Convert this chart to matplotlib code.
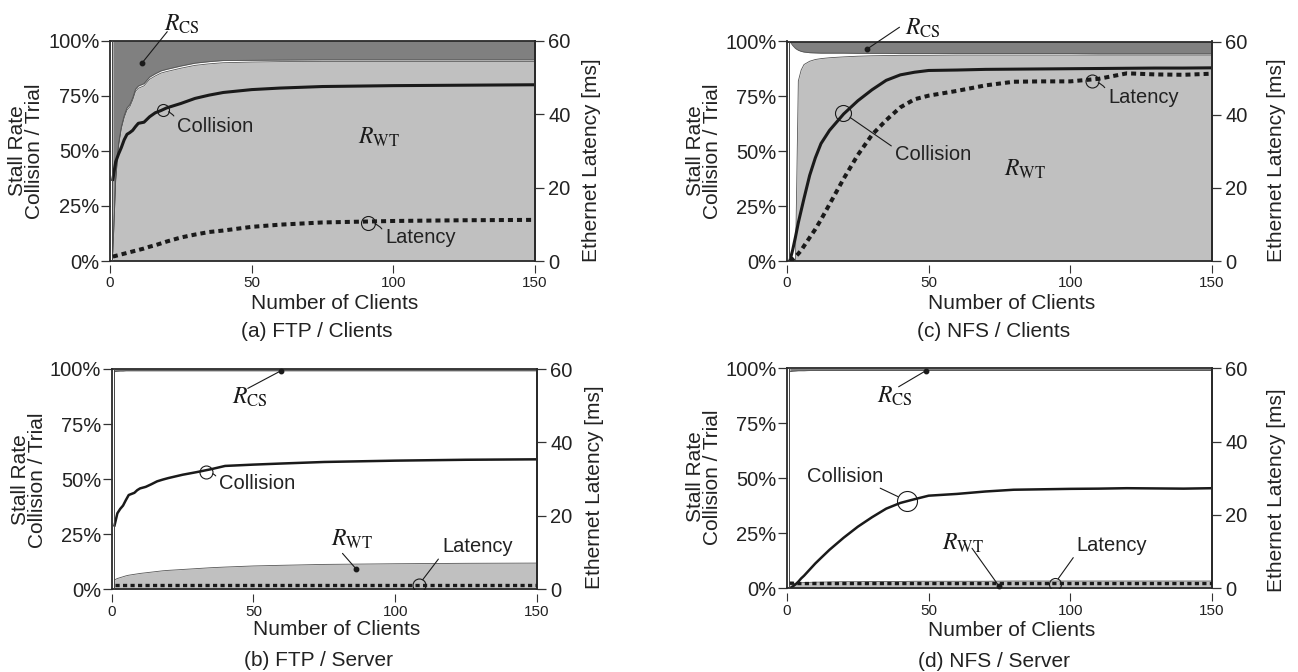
import matplotlib

matplotlib.use("Agg")
import matplotlib.pyplot as plt
from matplotlib import transforms
from matplotlib.lines import Line2D

plt.rcParams["font.family"] = ["Liberation Sans", "DejaVu Sans"]
plt.rcParams["mathtext.fontset"] = "stix"

W, H = 1298, 672
LIGHT = "#c0c0c0"
DARK = "#808080"
INK = "#1a1a1a"
TXT = "#222222"

# ---- data ----------------------------------------------------------------
# stall rates in %, collision / trial in %, latency in ms
x_ftp = [1, 2, 3, 4, 5, 6, 7, 8, 9, 10, 12, 14, 16, 18, 20, 25, 30, 35, 40,
         50, 60, 75, 100, 125, 150]
a_rwt = [3, 36, 52, 60, 65, 68.5, 70, 73, 77, 78.4, 79.5, 82.5, 84, 85.3, 86,
         87.5, 88.8, 89.5, 90, 90.3, 90.5, 90.6, 90.6, 90.6, 90.6]
a_rcs = [96, 63, 47, 39, 34, 30.5, 29, 26, 22, 20.6, 19.5, 16.5, 15, 13.7, 13,
         11.5, 10.2, 9.5, 9, 8.9, 8.8, 8.7, 8.7, 8.7, 8.7]
a_coll = [37, 45, 48.5, 51.5, 55, 57.5, 58.3, 59.3, 61, 62.5, 63, 65.5, 67.3,
          68.3, 69.5, 71.5, 73.8, 75.3, 76.5, 77.8, 78.5, 79.2, 79.6, 79.8, 80]
a_lat = [1.2, 1.4, 1.6, 1.8, 2.0, 2.2, 2.4, 2.6, 2.8, 3.0, 3.4, 3.9, 4.3, 4.8,
         5.3, 6.4, 7.2, 7.9, 8.3, 9.3, 9.9, 10.5, 10.9, 11.1, 11.2]

b_rwt = [4.3, 4.9, 5.3, 5.7, 6.1, 6.4, 6.6, 6.8, 7.0, 7.2, 7.5, 7.8, 8.1, 8.4,
         8.6, 9.0, 9.4, 9.8, 10.1, 10.6, 10.9, 11.3, 11.6, 11.8, 11.9]
b_rcs = [1.2, 1.0, 0.9, 0.9, 0.8, 0.8, 0.8, 0.8, 0.8, 0.8, 0.8, 0.8, 0.8, 0.8,
         0.8, 0.8, 0.8, 0.8, 0.8, 0.8, 0.8, 0.8, 0.8, 0.8, 0.8]
b_coll = [29, 34.5, 36.5, 38, 40.5, 42.8, 43.3, 43.8, 45, 45.8, 46.5, 47.7, 49,
          49.8, 50.5, 52, 53.2, 54.5, 56, 56.6, 57.1, 57.8, 58.4, 58.8, 59]
b_lat = [1.2, 1.2, 1.2, 1.2, 1.2, 1.2, 1.2, 1.2, 1.2, 1.2, 1.2, 1.2, 1.2, 1.2,
         1.2, 1.2, 1.2, 1.2, 1.2, 1.2, 1.2, 1.2, 1.2, 1.2, 1.2]

x_nfs = [1, 2, 3, 4, 5, 6, 8, 10, 12, 15, 20, 25, 30, 35, 40, 45, 50, 60, 70,
         80, 90, 100, 110, 120, 130, 140, 150]
c_rwt = [0, 0, 0, 82, 87, 89.5, 91, 91.8, 92.2, 92.6, 93, 93.3, 93.5, 93.6,
         93.7, 93.7, 93.7, 93.8, 93.8, 93.8, 93.8, 93.8, 93.8, 93.8, 93.8,
         93.8, 93.8]
c_rcs = [0, 1.8, 3.2, 4.0, 4.5, 4.8, 5.1, 5.2, 5.3, 5.3, 5.3, 5.4, 5.4, 5.4,
         5.5, 5.5, 5.5, 5.5, 5.5, 5.5, 5.5, 5.5, 5.6, 5.6, 5.6, 5.6, 5.6]
c_coll = [0, 5, 11, 17.5, 23, 28.5, 39, 47, 53.5, 59.5, 67, 73, 78, 82.3, 84.8,
          86, 86.8, 87, 87.3, 87.4, 87.5, 87.6, 87.7, 87.8, 87.9, 87.9, 88]
c_lat = [0, 0.5, 1.2, 2.0, 2.9, 4.1, 6.4, 8.7, 11.3, 15.5, 22.5, 29, 34.5,
         38.5, 42, 44.2, 45.2, 46.5, 48, 49, 49.1, 49.1, 49.8, 51.3, 51.0,
         50.9, 51.2]

d_rwt = [1.5, 2.0, 2.2, 2.4, 2.5, 2.6, 2.7, 2.8, 2.8, 2.9, 3.0, 3.0, 3.1, 3.1,
         3.1, 3.2, 3.2, 3.2, 3.2, 3.3, 3.3, 3.3, 3.3, 3.3, 3.3, 3.3, 3.3]
d_rcs = [1.5, 1.3, 1.2, 1.1, 1.1, 1.1, 1.0, 1.0, 1.0, 1.0, 1.0, 1.0, 1.0, 1.0,
         1.0, 1.0, 1.0, 1.0, 1.0, 1.0, 1.0, 1.0, 1.0, 1.0, 1.0, 1.0, 1.0]
d_coll = [0, 0.8, 1.8, 3.0, 4.5, 5.7, 8.5, 11.3, 13.8, 17.5, 23, 28, 32.3,
          36.2, 38.8, 40.5, 42.1, 42.9, 44, 44.8, 45, 45.2, 45.3, 45.5, 45.4,
          45.3, 45.5]
d_lat = [1.4, 1.4, 1.3, 1.3, 1.3, 1.3, 1.3, 1.3, 1.3, 1.3, 1.3, 1.3, 1.3, 1.3,
         1.3, 1.3, 1.3, 1.3, 1.3, 1.3, 1.3, 1.3, 1.3, 1.3, 1.3, 1.3, 1.3]

x_ticks = [0, 50, 100, 150]
pct_ticks = [0, 25, 50, 75, 100]
pct_labels = ["0%", "25%", "50%", "75%", "100%"]
ms_ticks = [0, 20, 40, 60]


def rect(left, right, top, bottom):
    return [left / W, 1 - bottom / H, (right - left) / W, (bottom - top) / H]


def ftxt(fig, px, py, s, **kw):
    kw.setdefault("fontsize", 15)
    kw.setdefault("color", TXT)
    fig.text(px / W, 1 - py / H, s, **kw)


def panel(fig, box, x, rwt, rcs, coll, lat, lw_c, lw_l, gap):
    ax = fig.add_axes(rect(*box))
    top_edge = [100 - v for v in rcs]
    ax.fill_between(x, 0, rwt, color=LIGHT, lw=0, zorder=1)
    ax.fill_between(x, top_edge, 100, color=DARK, lw=0, zorder=1)
    ax.plot(x, rwt, color="#555555", lw=0.6, zorder=1.5)
    ax.plot(x, top_edge, color="#555555", lw=0.6, zorder=1.5)
    ax.plot(x, coll, color=INK, lw=lw_c, zorder=2)
    ax.set_xlim(0, 150)
    ax.set_ylim(0, 100)
    ax.set_xticks([])
    ax.set_yticks(pct_ticks)
    ax.set_yticklabels(pct_labels)
    ax.tick_params(axis="y", direction="out", length=6.5, width=0.9,
                   labelsize=14.5, pad=1, labelcolor=TXT, color="#333333")

    ax2 = ax.twinx()
    ax2.plot(x, lat, color=INK, lw=lw_l, dashes=(1.25, 1.0),
             dash_capstyle="butt", zorder=3)
    ax2.set_ylim(0, 60)
    ax2.set_yticks(ms_ticks)
    ax2.tick_params(axis="y", direction="out", length=6.5, width=0.9,
                    labelsize=14.5, pad=3, labelcolor=TXT, color="#333333")
    for a in (ax, ax2):
        for sp in a.spines.values():
            sp.set_linewidth(1.3)
            sp.set_color("#2a2a2a")
    for side in ("left", "top", "bottom"):
        ax2.spines[side].set_visible(False)

    # second thin line just inside the left frame
    off = transforms.ScaledTranslation(2.2 / 100, 0, fig.dpi_scale_trans)
    ax.add_line(Line2D([0, 0], [0, 1], transform=ax.transAxes + off,
                       color="#444444", lw=0.7, zorder=4))

    sec = ax.secondary_xaxis(-gap)
    sec.spines["bottom"].set_visible(False)
    sec.set_xticks(x_ticks)
    sec.set_xticklabels([str(t) for t in x_ticks],
                        fontfamily=["Liberation Sans Narrow", "Liberation Sans"])
    sec.tick_params(length=5.5, width=0.8, pad=2.5, labelsize=11,
                    labelcolor=TXT, color="#333333")
    return ax, ax2


def tag(ax, text, pos, start, dot):
    ax.text(*pos, text, fontsize=17, ha="center", va="center", color=INK)
    ax.annotate("", xy=dot, xytext=start, annotation_clip=False,
                arrowprops=dict(arrowstyle="-", lw=0.8, color=INK,
                                shrinkA=0, shrinkB=0))
    ax.plot(*dot, "o", ms=3.2, color=INK, zorder=5, clip_on=False)


def ring(ax, text, center, tpos, diam, rad=0.0, relpos=(0, 0.5)):
    ax.plot(*center, "o", ms=diam / 1.39, mfc="none", mec=INK, mew=0.8,
            zorder=5)
    ax.annotate(text, xy=center, xytext=tpos, fontsize=14.5, color=TXT,
                ha="left", va="center", annotation_clip=False,
                arrowprops=dict(arrowstyle="-", lw=0.8, color=INK,
                                shrinkA=1, shrinkB=diam / 1.39 / 2,
                                relpos=relpos,
                                connectionstyle=f"arc3,rad={rad}"))


fig = plt.figure(figsize=(W / 100, H / 100), dpi=100)

# (a) FTP / Clients
ax, ax2 = panel(fig, (110, 535, 40.7, 261), x_ftp, a_rwt, a_rcs, a_coll,
                a_lat, 2.2, 2.9, 0.018)
tag(ax, r"$R_{\mathrm{CS}}$", (25.2, 107.5), (20.2, 104.1), (11.2, 89.7))
ax.text(95, 56, r"$R_{\mathrm{WT}}$", fontsize=17, ha="center", va="center",
        color=INK)
ring(ax, "Collision", (18.6, 68.5), (23.8, 61), 12, rad=0.4)
ring(ax2, "Latency", (91, 10.4), (97.2, 6.5), 14, rad=0.4)

# (c) NFS / Clients
ax, ax2 = panel(fig, (787, 1212, 41.5, 261), x_nfs, c_rwt, c_rcs, c_coll,
                c_lat, 2.2, 2.9, 0.018)
tag(ax, r"$R_{\mathrm{CS}}$", (48.1, 106.1), (39.7, 106.5), (28.2, 96.5))
ax.text(84, 41.8, r"$R_{\mathrm{WT}}$", fontsize=17, ha="center",
        va="center", color=INK)
ring(ax, "Collision", (19.9, 67.5), (38.2, 48.6), 16, relpos=(0, 0.8))
ring(ax2, "Latency", (107.6, 49.1), (113.4, 44.8), 13, rad=0.4)

# (b) FTP / Server
ax, ax2 = panel(fig, (111.7, 537, 369, 589.3), x_ftp, b_rwt, b_rcs, b_coll,
                b_lat, 1.8, 2.4, 0.023)
tag(ax, r"$R_{\mathrm{CS}}$", (48.9, 87), (48, 91.2), (59.7, 99.2))
tag(ax, r"$R_{\mathrm{WT}}$", (84.6, 22.8), (81.4, 16.3), (86.3, 9.1))
ring(ax, "Collision", (33.4, 53.2), (38, 47.8), 13, rad=0.4)
ring(ax2, "Latency", (108.3, 1.2), (116.5, 11.6), 13, relpos=(0, 0.1))

# (d) NFS / Server
ax, ax2 = panel(fig, (787, 1212, 368.3, 588.3), x_nfs, d_rwt, d_rcs, d_coll,
                d_lat, 1.8, 2.4, 0.023)
tag(ax, r"$R_{\mathrm{CS}}$", (38.2, 87.1), (39.4, 91.6), (49, 98.9))
tag(ax, r"$R_{\mathrm{WT}}$", (62, 20.6), (65.3, 18.2), (74.7, 1.2))
ax.plot(42.4, 39.7, "o", ms=20 / 1.39, mfc="none", mec=INK, mew=0.8, zorder=5)
ax.text(7, 51, "Collision", fontsize=14.5, ha="left", va="center", color=TXT)
ax.annotate("", xy=(42.4, 39.7), xytext=(32.9, 45.5),
            arrowprops=dict(arrowstyle="-", lw=0.8, color=INK, shrinkA=0,
                            shrinkB=20 / 1.39 / 2))
ring(ax2, "Latency", (94.5, 1.3), (102.3, 11.8), 12, relpos=(0, 0.1))

# axis titles and captions
for cx, ylab_x, ylab_y, rlab_x, rlab_y, nb, cb, cap in [
    (322.5, 25.8, 151, 591.7, 160, 309, 336.7, "(a) FTP / Clients"),
    (324.3, 29, 480, 595, 487, 635, 665.7, "(b) FTP / Server"),
    (999.5, 704, 151, 1276, 160, 309, 336.7, "(c) NFS / Clients"),
    (999.5, 704, 477, 1276.7, 490, 636, 666.7, "(d) NFS / Server"),
]:
    ftxt(fig, ylab_x, ylab_y, "Stall Rate\nCollision / Trial", rotation=90,
         ha="center", va="center", linespacing=0.9)
    ftxt(fig, rlab_x, rlab_y, "Ethernet Latency [ms]", rotation=90,
         ha="center", va="center")
    ftxt(fig, cx + 12, nb, "Number of Clients", ha="center", va="baseline")
    ftxt(fig, cx - 6, cb, cap, ha="center", va="baseline")

fig.savefig("out.png", dpi=100)
plt.close(fig)
